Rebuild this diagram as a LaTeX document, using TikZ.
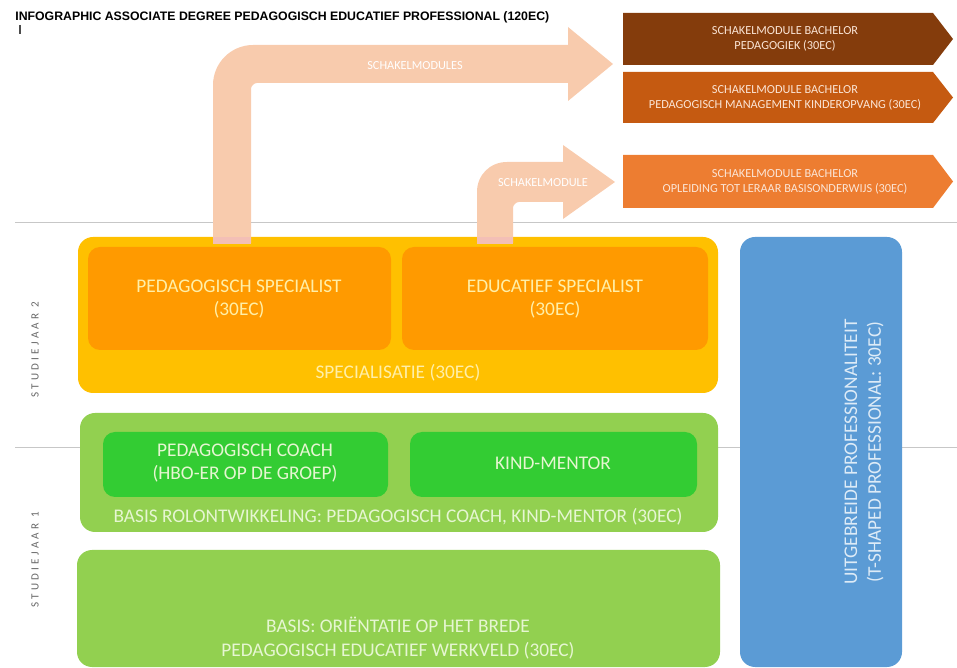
\documentclass[tikz,border=0pt]{standalone}
\usepackage{fontspec}
\setmainfont{Carlito}
\newfontfamily\titlefont{Liberation Sans}
\definecolor{specyellow}{HTML}{FFC000}
\definecolor{specorange}{HTML}{FF9A00}
\definecolor{basegreen}{HTML}{92D050}
\definecolor{rolegreen}{HTML}{33CC33}
\definecolor{tblue}{HTML}{5B9BD5}
\definecolor{peach}{HTML}{F8CBAD}
\definecolor{peachfoot}{HTML}{F3BFB6}
\definecolor{chevdark}{HTML}{843C0C}
\definecolor{chevmid}{HTML}{C55A11}
\definecolor{chevlight}{HTML}{ED7D31}
\definecolor{chevtext}{HTML}{FBE5D6}
\definecolor{yeltext}{HTML}{FFEFA8}
\definecolor{grntext}{HTML}{E6F6D2}
\definecolor{blutext}{HTML}{DDEBF7}
\tikzset{
	boxtext/.style={align=center,font=\fontsize{11}{13.5}\selectfont},
	smalltext/.style={align=center,font=\fontsize{7}{8.5}\selectfont,text=chevtext},
	yeartext/.style={rotate=90,text=black!60,font=\fontsize{6.3}{8}\selectfont\addfontfeature{LetterSpace=30}},
	gridline/.style={black!22,line width=0.5pt}
}
\begin{document}
\begin{tikzpicture}[x=0.02cm,y=-0.02cm]
				\useasboundingbox (0,0) rectangle (957,668);
				%%%%% START %%%%%
				\def\radbig{0.3cm}
				\def\radsm{0.24cm}
				\def\xl{623}
				\def\xr{933}
				\def\xtip{953}
				
				\node[anchor=west,inner sep=0pt,font=\titlefont\bfseries\fontsize{7}{8}\selectfont] (title) at (15,17) {INFOGRAPHIC ASSOCIATE DEGREE PEDAGOGISCH EDUCATIEF PROFESSIONAL (120EC)};
				\draw[black!70,line width=0.6pt] (20,25) -- (20,34);
				
				\draw[gridline] (15,222) -- (957,222);
				\draw[gridline] (15,447) -- (957,447);
				
				\node[yeartext] (yeartwo) at (35,350) {STUDIEJAAR 2};
				\node[yeartext] (yearone) at (35,560) {STUDIEJAAR 1};
				
				\draw[fill=specyellow,draw=none,rounded corners=\radbig] (78,237) rectangle (718,393);
				\draw[fill=specorange,draw=none,rounded corners=\radsm] (88,247) rectangle (391,350);
				\draw[fill=specorange,draw=none,rounded corners=\radsm] (402,247) rectangle (708,350);
				\node[boxtext,text=yeltext] (pedspec) at (239,299) {PEDAGOGISCH SPECIALIST\\(30EC)};
				\node[boxtext,text=yeltext] (eduspec) at (555,299) {EDUCATIEF SPECIALIST\\(30EC)};
				\node[boxtext,text=yeltext] (spec) at (398,373) {SPECIALISATIE (30EC)};
				
				\draw[fill=basegreen,draw=none,rounded corners=\radbig] (80,413) rectangle (718,532);
				\draw[fill=rolegreen,draw=none,rounded corners=\radsm] (103,432) rectangle (388,497);
				\draw[fill=rolegreen,draw=none,rounded corners=\radsm] (410,432) rectangle (697,497);
				\node[boxtext,text=grntext] (coach) at (245,463) {PEDAGOGISCH COACH\\(HBO-ER OP DE GROEP)};
				\node[boxtext,text=grntext] (mentor) at (553,463) {KIND-MENTOR};
				\node[boxtext,text=grntext] (basisrol) at (398,517) {BASIS ROLONTWIKKELING: PEDAGOGISCH COACH, KIND-MENTOR (30EC)};
				
				\draw[fill=basegreen,draw=none,rounded corners=\radbig] (77,550) rectangle (720,667);
				\node[boxtext,text=grntext] (basisori) at (398,638) {BASIS: ORIËNTATIE OP HET BREDE\\PEDAGOGISCH EDUCATIEF WERKVELD (30EC)};
				
				\draw[fill=tblue,draw=none,rounded corners=\radbig] (740,237) rectangle (902,667);
				\node[boxtext,text=blutext,rotate=90] (tshaped) at (864,452) {UITGEBREIDE PROFESSIONALITEIT\\(T-SHAPED PROFESSIONAL: 30EC)};
				
				% arrows
				\fill[peach] (213,243) -- (213,85) .. controls (213,63) and (231,45) .. (253,45) -- (568,45) -- (568,27) -- (613,64) -- (568,101) -- (568,83) -- (257,83) .. controls (254,83) and (251,86) .. (251,89) -- (251,243) -- cycle;
				\fill[peach] (477,243) -- (477,192) .. controls (477,175) and (490,162) .. (507,162) -- (563,162) -- (563,145) -- (615,182) -- (563,219) -- (563,202) -- (519,202) .. controls (516,202) and (513,205) .. (513,208) -- (513,243) -- cycle;
				\fill[peachfoot] (213,237) rectangle (251,244);
				\fill[peachfoot] (477,237) rectangle (513,244);
				\node[smalltext,text=white] (schakelbig) at (415,66) {SCHAKELMODULES};
				\node[smalltext,text=white] (schakelsm) at (543,183) {SCHAKELMODULE};
				
				\fill[chevdark] (\xl,13) -- (\xr,13) -- (\xtip,39) -- (\xr,65) -- (\xl,65) -- cycle;
				\fill[chevmid] (\xl,72) -- (\xr,72) -- (\xtip,97.5) -- (\xr,123) -- (\xl,123) -- cycle;
				\fill[chevlight] (\xl,155) -- (\xr,155) -- (\xtip,181.5) -- (\xr,208) -- (\xl,208) -- cycle;
				\node[smalltext] (bachped) at (785,39) {SCHAKELMODULE BACHELOR\\PEDAGOGIEK (30EC)};
				\node[smalltext] (bachpmk) at (785,97.5) {SCHAKELMODULE BACHELOR\\PEDAGOGISCH MANAGEMENT KINDEROPVANG (30EC)};
				\node[smalltext] (bachpabo) at (785,181.5) {SCHAKELMODULE BACHELOR\\OPLEIDING TOT LERAAR BASISONDERWIJS (30EC)};
				%%%%% END %%%%%
			\end{tikzpicture}
\end{document}
